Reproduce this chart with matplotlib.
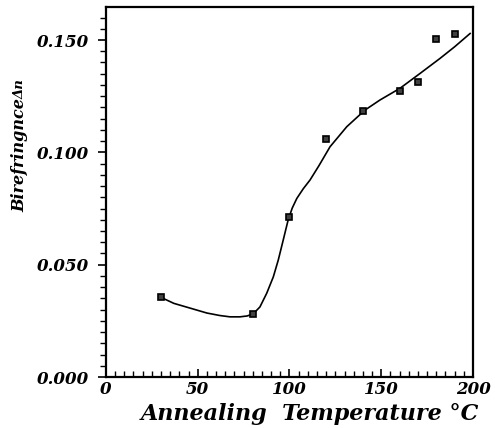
import matplotlib
matplotlib.use("Agg")
import matplotlib.pyplot as plt
from matplotlib.ticker import MultipleLocator, FormatStrFormatter

# measured points
temp = [30, 80, 100, 120, 140, 160, 170, 180, 190]
biref = [0.0356, 0.0281, 0.0712, 0.1060, 0.1184, 0.1273, 0.1313, 0.1505, 0.1527]

# fitted curve
curve_t = [29.4, 37.0, 45.8, 55.0, 62.0, 67.6, 73.0, 77.0, 80.3, 83.9, 87.6, 91.2,
           93.9, 96.6, 99.3, 101.5, 104.0, 107.5, 111.2, 116.0, 122.1, 131.2, 141.1,
           149.3, 160.2, 171.1, 182.0, 190.0, 198.4]
curve_b = [0.0357, 0.0328, 0.0307, 0.0285, 0.0274, 0.0268, 0.0268, 0.0272, 0.0282,
           0.0312, 0.0373, 0.0446, 0.0521, 0.0610, 0.0700, 0.0752, 0.0795, 0.0838,
           0.0877, 0.0940, 0.1025, 0.1114, 0.1188, 0.1233, 0.1285, 0.1351, 0.1418,
           0.1470, 0.1529]

font = "DejaVu Serif"

fig = plt.figure(figsize=(4.95, 4.28), dpi=100)
ax = fig.add_axes([0.214, 0.119, 0.7416, 0.8647])

ax.plot(curve_t, curve_b, color="black", lw=1.2)
ax.plot(temp, biref, linestyle="none", marker="s", markersize=5,
        markerfacecolor="0.25", markeredgecolor="black", markeredgewidth=1.2)

ax.set_xlim(0, 200)
ax.set_ylim(0, 0.1647)
ax.xaxis.set_major_locator(MultipleLocator(50))
ax.xaxis.set_minor_locator(MultipleLocator(5))
ax.yaxis.set_major_locator(MultipleLocator(0.05))
ax.yaxis.set_minor_locator(MultipleLocator(0.005))
ax.yaxis.set_major_formatter(FormatStrFormatter("%.3f"))

ax.tick_params(axis="x", which="both", direction="in", top=False, pad=3)
ax.tick_params(axis="x", which="major", length=6, width=1.2)
ax.tick_params(axis="x", which="minor", length=4, width=1)
ax.tick_params(axis="y", which="both", direction="out", right=False, pad=6)
ax.tick_params(axis="y", which="major", length=6, width=1.2)
ax.tick_params(axis="y", which="minor", length=4, width=1)

for lab in ax.get_xticklabels() + ax.get_yticklabels():
    lab.set_family(font)
    lab.set_style("italic")
    lab.set_weight("bold")
    lab.set_fontsize(12)

for sp in ax.spines.values():
    sp.set_linewidth(1.6)

fig.text(0.626, 0.006, "Annealing  Temperature \u00b0C", family=font, style="italic",
         weight="bold", fontsize=16, ha="center", va="bottom")
fig.text(0.04, 0.638, "Birefringnce", family=font, style="italic",
         weight="bold", fontsize=11.5, rotation=90, ha="center", va="center")
fig.text(0.04, 0.768, "\u0394n", family=font, style="italic",
         weight="bold", fontsize=9.5, rotation=90, ha="center", va="bottom")

fig.savefig("out.png", dpi=100)
